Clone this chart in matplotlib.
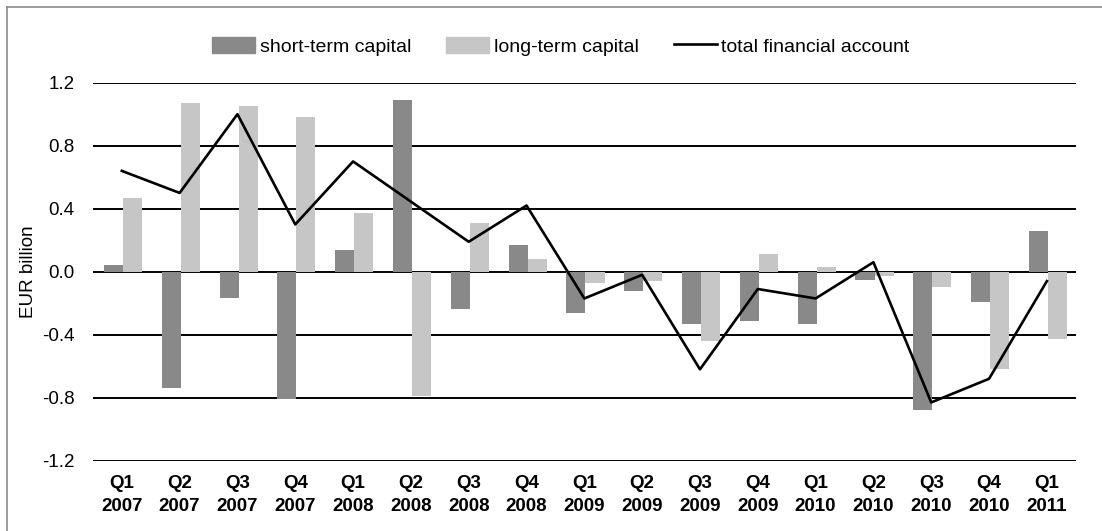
import matplotlib.pyplot as plt
import numpy as np
from matplotlib.lines import Line2D

plt.rcParams['font.family'] = ['Liberation Sans', 'DejaVu Sans']

quarters = ['Q1', 'Q2', 'Q3', 'Q4', 'Q1', 'Q2', 'Q3', 'Q4', 'Q1', 'Q2', 'Q3', 'Q4',
            'Q1', 'Q2', 'Q3', 'Q4', 'Q1']
years = ['2007'] * 4 + ['2008'] * 4 + ['2009'] * 4 + ['2010'] * 4 + ['2011']

short_term = [0.04, -0.74, -0.17, -0.81, 0.14, 1.09, -0.24, 0.17, -0.26, -0.12,
              -0.33, -0.31, -0.33, -0.05, -0.88, -0.19, 0.26]
long_term = [0.47, 1.07, 1.05, 0.98, 0.37, -0.79, 0.31, 0.08, -0.07, -0.06,
             -0.44, 0.11, 0.03, -0.03, -0.10, -0.62, -0.43]
total = [0.64, 0.50, 1.00, 0.30, 0.70, 0.445, 0.19, 0.42, -0.17, -0.02,
         -0.62, -0.11, -0.17, 0.06, -0.83, -0.68, -0.06]

dark = '#898989'
light = '#c6c6c7'

fig = plt.figure(figsize=(11.02, 5.31), dpi=100)
ax = fig.add_axes([0.0843, 0.1324, 0.8919, 0.7119])

x = np.arange(len(quarters))
w = 0.33
ax.bar(x - w / 2 + 0.02, short_term, width=w, color=dark, zorder=2)
ax.bar(x + w / 2 + 0.02, long_term, width=w, color=light, zorder=2)
ax.plot(x, total, color='black', linewidth=1.9, zorder=3)

ax.set_xlim(-0.5, len(quarters) - 0.5)
ax.set_ylim(-1.2, 1.2)
yticks = [-1.2, -0.8, -0.4, 0.0, 0.4, 0.8, 1.2]
ax.set_yticks(yticks)
ax.set_yticklabels([f'{v:.1f}' for v in yticks], fontsize=13.5)
for v in yticks:
    ax.axhline(v, color='black', linewidth=1.4, zorder=1)

ax.set_xticks(x)
ax.set_xticklabels([f'{q}\n{y}' for q, y in zip(quarters, years)],
                   fontsize=13.5, fontweight='bold', linespacing=1.5)
ax.tick_params(axis='both', length=0)
ax.tick_params(axis='x', pad=10)
ax.tick_params(axis='y', pad=13)
for s in ax.spines.values():
    s.set_visible(False)

ax.set_ylabel('EUR billion', fontsize=13.5, labelpad=4)

handles = [plt.Rectangle((0, 0), 1, 1, color=dark),
           plt.Rectangle((0, 0), 1, 1, color=light),
           Line2D([0], [0], color='black', linewidth=1.9)]
fig.legend(handles, ['short-term capital', 'long-term capital', 'total financial account'],
           loc='center', bbox_to_anchor=(0.509, 0.913), ncol=3, frameon=False,
           fontsize=14, handlelength=2.2, handleheight=0.9, handletextpad=0.25,
           columnspacing=1.8)

# partial frame (top and left edge)
fig.add_artist(Line2D([0.0065, 1.0], [0.987, 0.987], transform=fig.transFigure,
                      color='#8a8a8a', linewidth=1.2))
fig.add_artist(Line2D([0.0065, 0.0065], [0.0, 0.987], transform=fig.transFigure,
                      color='#8a8a8a', linewidth=1.2))

fig.savefig('out.png', dpi=100)
